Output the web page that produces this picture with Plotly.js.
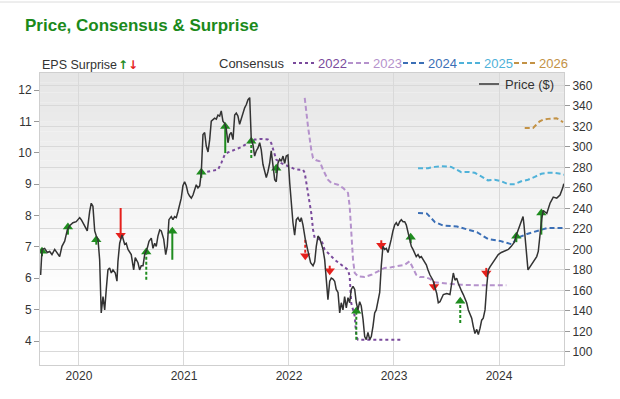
<!DOCTYPE html>
<html><head><meta charset="utf-8">
<script src="https://cdn.plot.ly/plotly-3.0.1.min.js"></script>
<style>html,body{margin:0;padding:0;background:#fff;}#chart{width:620px;height:399px;}</style>
</head><body><div id="chart"></div>
<script>
// ---------- DATA ----------
const priceYears = [2019.635,2019.648,2019.673,2019.698,2019.721,2019.743,2019.769,2019.790,2019.816,2019.838,2019.864,2019.889,2019.911,2019.943,2019.974,2020.007,2020.022,2020.054,2020.079,2020.102,2020.117,2020.133,2020.150,2020.165,2020.181,2020.197,2020.212,2020.229,2020.245,2020.260,2020.276,2020.292,2020.308,2020.324,2020.346,2020.362,2020.371,2020.388,2020.410,2020.435,2020.450,2020.467,2020.498,2020.521,2020.536,2020.562,2020.578,2020.593,2020.610,2020.626,2020.650,2020.667,2020.689,2020.705,2020.721,2020.736,2020.752,2020.769,2020.784,2020.807,2020.826,2020.841,2020.857,2020.879,2020.895,2020.911,2020.927,2020.943,2020.959,2020.974,2020.990,2021.006,2021.022,2021.038,2021.054,2021.070,2021.086,2021.102,2021.117,2021.133,2021.150,2021.165,2021.181,2021.197,2021.212,2021.229,2021.245,2021.260,2021.276,2021.292,2021.308,2021.324,2021.340,2021.355,2021.371,2021.387,2021.402,2021.419,2021.435,2021.450,2021.467,2021.483,2021.498,2021.514,2021.530,2021.546,2021.562,2021.578,2021.593,2021.610,2021.626,2021.641,2021.657,2021.673,2021.688,2021.705,2021.721,2021.736,2021.752,2021.768,2021.784,2021.800,2021.816,2021.831,2021.848,2021.864,2021.879,2021.895,2021.911,2021.927,2021.943,2021.959,2021.974,2021.990,2022.007,2022.022,2022.038,2022.054,2022.070,2022.086,2022.105,2022.117,2022.133,2022.155,2022.181,2022.206,2022.229,2022.245,2022.260,2022.276,2022.292,2022.308,2022.324,2022.340,2022.355,2022.371,2022.388,2022.403,2022.419,2022.435,2022.450,2022.467,2022.483,2022.498,2022.514,2022.530,2022.546,2022.562,2022.578,2022.593,2022.610,2022.626,2022.641,2022.657,2022.673,2022.688,2022.705,2022.721,2022.736,2022.752,2022.769,2022.784,2022.800,2022.816,2022.831,2022.848,2022.864,2022.879,2022.895,2022.911,2022.927,2022.943,2022.959,2022.974,2022.990,2023.007,2023.022,2023.038,2023.054,2023.070,2023.086,2023.102,2023.117,2023.133,2023.149,2023.165,2023.181,2023.197,2023.212,2023.229,2023.245,2023.260,2023.276,2023.292,2023.308,2023.324,2023.343,2023.371,2023.407,2023.422,2023.438,2023.470,2023.502,2023.533,2023.550,2023.565,2023.581,2023.597,2023.612,2023.629,2023.645,2023.660,2023.692,2023.708,2023.724,2023.740,2023.755,2023.771,2023.788,2023.803,2023.819,2023.835,2023.850,2023.867,2023.883,2023.898,2023.914,2023.946,2023.978,2023.993,2024.022,2024.057,2024.089,2024.117,2024.146,2024.162,2024.181,2024.197,2024.216,2024.229,2024.238,2024.251,2024.264,2024.276,2024.295,2024.327,2024.359,2024.374,2024.390,2024.407,2024.422,2024.455,2024.486,2024.517,2024.550,2024.581,2024.607,2024.617];
const priceValues = [175,200,201,197,198,195,200,197,193,203,208,219,223,226,227,231,229,223,218,237,245,242,218,213,210,190,138,154,141,161,180,182,177,180,177,169,188,206,214,205,206,200,195,180,192,187,180,184,184,195,201,208,211,201,206,203,213,219,218,210,195,203,229,232,229,232,231,237,244,250,262,266,262,255,252,250,253,258,263,260,262,275,312,314,301,295,307,325,327,328,327,331,330,335,325,323,318,304,312,314,307,331,333,330,322,328,333,338,341,346,348,307,302,291,296,299,304,297,283,275,270,276,284,296,278,268,266,284,288,286,291,284,291,292,265,242,226,214,229,231,227,231,224,210,197,187,184,188,203,213,211,206,200,190,174,151,169,172,171,169,161,158,138,148,141,154,143,153,148,161,164,161,148,141,149,145,132,115,112,119,112,115,125,138,141,151,158,184,203,200,201,197,203,210,218,224,226,223,227,229,227,227,224,216,210,203,200,197,193,195,192,193,190,188,185,180,175,170,157,148,149,156,157,156,167,177,170,172,167,162,159,156,148,141,136,133,125,118,122,117,123,131,133,141,164,180,183,188,193,195,197,199,200,203,207,213,219,224,229,232,224,206,190,180,183,188,193,198,216,230,238,235,245,251,250,253,260,264];

const consensusLabels = ['2022','2023','2024','2025','2026'];
const cons2022Years = [2021.165,2021.197,2021.260,2021.324,2021.355,2021.388,2021.419,2021.483,2021.546,2021.610,2021.641,2021.673,2021.736,2021.800,2021.831,2021.848,2021.879,2021.927,2021.990,2022.054,2022.105,2022.133,2022.150,2022.181,2022.212,2022.229,2022.245,2022.308,2022.340,2022.388,2022.435,2022.498,2022.562,2022.578,2022.593,2022.626,2022.641,2022.657,2022.721,2023.070];
const cons2022Eps = [9.36,9.38,9.41,9.46,9.67,9.94,10.01,10.10,10.18,10.31,10.37,10.42,10.44,10.42,10.31,10.10,9.78,9.67,9.57,9.48,9.46,9.46,9.36,8.72,8.08,7.55,7.28,7.23,6.91,6.75,6.59,6.43,6.27,6.06,5.21,4.79,4.15,4.04,4.04,4.04];
const cons2023Years = [2022.150,2022.165,2022.181,2022.212,2022.229,2022.260,2022.292,2022.324,2022.371,2022.403,2022.467,2022.514,2022.562,2022.578,2022.593,2022.610,2022.626,2022.657,2022.721,2022.784,2022.848,2022.911,2022.974,2023.038,2023.102,2023.149,2023.181,2023.212,2023.245,2023.292,2023.343,2023.388,2023.514,2023.641,2023.769,2024.070];
const cons2023Eps = [11.75,11.27,10.84,10.10,9.83,9.76,9.73,9.46,9.14,9.04,8.98,8.88,8.72,8.29,7.44,6.59,6.17,6.06,6.04,6.11,6.22,6.33,6.35,6.38,6.43,6.54,6.33,6.11,6.04,6.04,5.98,5.87,5.83,5.79,5.78,5.78];
const cons2024Years = [2023.229,2023.314,2023.390,2023.467,2023.600,2023.705,2023.790,2023.895,2024.010,2024.124,2024.171,2024.267,2024.390,2024.457,2024.619];
const cons2024Eps = [8.08,8.06,7.79,7.68,7.65,7.54,7.47,7.25,7.19,7.08,7.28,7.41,7.54,7.60,7.60];
const cons2025Years = [2023.229,2023.324,2023.388,2023.450,2023.545,2023.593,2023.641,2023.705,2023.769,2023.831,2023.895,2023.959,2024.022,2024.086,2024.150,2024.212,2024.276,2024.340,2024.403,2024.467,2024.530,2024.593,2024.619];
const cons2025Eps = [9.51,9.51,9.55,9.57,9.55,9.46,9.38,9.39,9.36,9.25,9.12,9.14,9.09,9.00,9.00,9.09,9.14,9.23,9.33,9.36,9.36,9.33,9.30];
const cons2026Years = [2024.245,2024.324,2024.355,2024.388,2024.419,2024.467,2024.546,2024.578,2024.610];
const cons2026Eps = [10.79,10.79,10.89,11.00,11.05,11.08,11.10,11.05,10.97];

const surpriseYears = [2019.648,2019.895,2020.165,2020.397,2020.641,2020.889,2021.165,2021.393,2021.641,2021.879,2022.155,2022.388,2022.641,2022.879,2023.159,2023.381,2023.631,2023.879,2024.165,2024.403];
const surpriseActual = [6.86,7.63,7.23,7.37,6.84,7.50,9.38,10.84,10.37,9.51,6.72,6.24,4.95,7.05,7.31,5.74,5.27,6.17,7.34,8.08];
const surpriseEstimate = [6.70,7.39,7.07,8.24,5.95,6.59,9.20,9.99,9.83,9.35,7.23,6.40,4.04,7.21,7.12,5.90,4.57,6.33,7.15,7.39];
const surpriseStem = ['solid','solid','solid','solid','dash','solid','solid','solid','dash','solid','dash','solid','dash','solid','solid','solid','dash','solid','solid','solid'];

const xTickVals = [2020,2021,2022,2023,2024];
const xTickText = ['2020','2021','2022','2023','2024'];
const epsTickVals = [4,5,6,7,8,9,10,11,12];
const priceTickVals = [100,120,140,160,180,200,220,240,260,280,300,320,340,360];

// ---------- STYLE ----------
const FONT = 'Liberation Sans, Arial, Helvetica, sans-serif';
const GREEN = '#1f8c1f', RED = '#e5201c', PRICE = '#333333';
const consColors = ['#7a4a9c','#b592cc','#3b6fb6','#4fb2d9','#c39245'];
const consDash = ['dot','5px,3px','5px,3px','5px,3px','5px,3px'];
const consYears = [cons2022Years,cons2023Years,cons2024Years,cons2025Years,cons2026Years];
const consEps = [cons2022Eps,cons2023Eps,cons2024Eps,cons2025Eps,cons2026Eps];

const L=40,R=564,T=73,B=365;
const px = x => (x-L)/(R-L);
const py = y => (B-y)/(B-T);

const traces = [];
traces.push({x:priceYears,y:priceValues,yaxis:'y2',type:'scatter',mode:'lines',
  line:{color:PRICE,width:1.5},hoverinfo:'skip',showlegend:false});
for(let i=0;i<consensusLabels.length;i++){
  traces.push({x:consYears[i],y:consEps[i],type:'scatter',mode:'lines',
    line:{color:consColors[i],width:2,dash:consDash[i]},hoverinfo:'skip',showlegend:false});
}
for(let i=0;i<surpriseYears.length;i++){
  const up = surpriseActual[i] >= surpriseEstimate[i];
  traces.push({x:[surpriseYears[i],surpriseYears[i]],y:[surpriseEstimate[i],surpriseActual[i]],
    type:'scatter',mode:'lines',line:{color:up?GREEN:RED,width:2,dash:surpriseStem[i]==='dash'?'3px,2px':'solid'},
    hoverinfo:'skip',showlegend:false});
}
const upX=[],upY=[],dnX=[],dnY=[];
surpriseYears.forEach((yr,i)=>{ if(surpriseActual[i]>=surpriseEstimate[i]){upX.push(yr);upY.push(surpriseActual[i]);} else {dnX.push(yr);dnY.push(surpriseActual[i]);} });
traces.push({x:upX,y:upY,type:'scatter',mode:'markers',marker:{symbol:'triangle-up',size:9,color:GREEN},hoverinfo:'skip',showlegend:false});
traces.push({x:dnX,y:dnY,type:'scatter',mode:'markers',marker:{symbol:'triangle-down',size:9,color:RED},hoverinfo:'skip',showlegend:false});

// background gradient bands
const shapes = [];
const N = 30;
for(let k=0;k<N;k++){
  const t0 = k/N, t1=(k+1)/N;
  const frac = Math.min(1, t0/0.75);
  const c = Math.round(230 + (255-230)*frac);
  shapes.push({type:'rect',xref:'paper',yref:'paper',x0:0,x1:1,y0:1-t1,y1:1-t0,layer:'below',
    fillcolor:`rgb(${c},${c},${c})`,line:{width:0}});
}
shapes.push({type:'line',xref:'paper',yref:'paper',x0:px(0),x1:px(620),y0:py(2),y1:py(2),line:{color:'#dcdcdc',width:1}});

const annotations = [];
const legY = 63;
annotations.push({xref:'paper',yref:'paper',x:px(40),y:py(65),xanchor:'left',yanchor:'middle',showarrow:false,
  text:'EPS Surprise',font:{family:FONT,size:12.5,color:'#333'}});
annotations.push({xref:'paper',yref:'paper',x:px(123),y:py(65),xanchor:'center',yanchor:'middle',showarrow:false,
  text:'<b>↑</b>',font:{family:'DejaVu Sans, sans-serif',size:12,color:GREEN}});
annotations.push({xref:'paper',yref:'paper',x:px(133),y:py(65),xanchor:'center',yanchor:'middle',showarrow:false,
  text:'<b>↓</b>',font:{family:'DejaVu Sans, sans-serif',size:12,color:RED}});
annotations.push({xref:'paper',yref:'paper',x:px(217),y:py(legY),xanchor:'left',yanchor:'middle',showarrow:false,
  text:'Consensus',font:{family:FONT,size:13,color:'#333'}});
const sampleStart = [293,348,403,459,514];
for(let i=0;i<consensusLabels.length;i++){
  shapes.push({type:'line',xref:'paper',yref:'paper',x0:px(sampleStart[i]),x1:px(sampleStart[i]+21),y0:py(legY),y1:py(legY),
    line:{color:consColors[i],width:2,dash:consDash[i]}});
  annotations.push({xref:'paper',yref:'paper',x:px(sampleStart[i]+23),y:py(legY),xanchor:'left',yanchor:'middle',showarrow:false,
    text:consensusLabels[i],font:{family:FONT,size:13,color:consColors[i]}});
}
shapes.push({type:'line',xref:'paper',yref:'paper',x0:px(479),x1:px(499),y0:py(84),y1:py(84),line:{color:PRICE,width:1.5}});
annotations.push({xref:'paper',yref:'paper',x:px(503),y:py(84),xanchor:'left',yanchor:'middle',showarrow:false,
  text:'Price ($)',font:{family:FONT,size:13,color:'#333'}});

const layout = {
  width:620,height:399,
  margin:{l:L,r:620-R,t:T,b:399-B,pad:0},
  paper_bgcolor:'#ffffff',plot_bgcolor:'#ffffff',
  font:{family:FONT,size:12,color:'#333'},
  title:{text:'<b>Price, Consensus &amp; Surprise</b>',xref:'container',yref:'container',x:25/620,xanchor:'left',y:1-25/399,yanchor:'middle',
    font:{family:FONT,size:17,color:'#1b8a1b'}},
  showlegend:false,
  xaxis:{range:[2019.629,2024.619],tickmode:'array',tickvals:xTickVals,ticktext:xTickText,showgrid:true,gridcolor:'#d9d9d9',gridwidth:1,
    showline:true,linecolor:'#cfcfcf',mirror:true,ticks:'',zeroline:false,tickfont:{size:12,color:'#333'},fixedrange:true},
  yaxis:{range:[3.235,12.542],tickmode:'array',tickvals:epsTickVals,showgrid:false,zeroline:false,showline:true,linecolor:'#cfcfcf',mirror:true,
    ticks:'outside',ticklen:5,tickcolor:'#999',tickfont:{size:12,color:'#333'},fixedrange:true},
  yaxis2:{range:[87.3,372],overlaying:'y',side:'right',tickmode:'array',tickvals:priceTickVals,showgrid:true,gridcolor:'#d9d9d9',gridwidth:1,
    zeroline:false,showline:false,ticks:'outside',ticklen:5,tickcolor:'#999',tickfont:{size:12,color:'#333'},fixedrange:true},
  shapes:shapes,annotations:annotations
};
Plotly.newPlot('chart',traces,layout,{displayModeBar:false,staticPlot:true});
</script></body></html>
